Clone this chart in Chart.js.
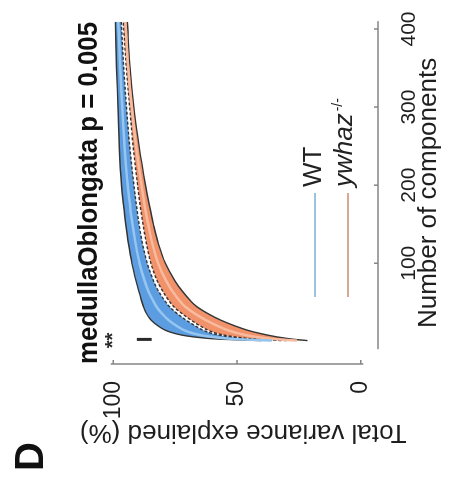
<!DOCTYPE html>
<html>
<head>
<meta charset="utf-8">
<script src="https://cdn.jsdelivr.net/npm/chart.js@4"></script>
<style>
  html, body { margin: 0; padding: 0; background: #fff; overflow: hidden; }
  /* the figure is printed turned a quarter turn counter-clockwise */
  #wrap {
    position: absolute; left: 0; top: 0;
    width: 483px; height: 450px;
    transform-origin: 0 0;
    transform: translateY(483px) rotate(-90deg);
  }
</style>
</head>
<body>
<div id="wrap"><canvas id="pcaChart" width="483" height="450"></canvas></div>
<script>
// Data
const COMPONENTS = [1, 2, 3, 5, 7, 10, 14, 20, 27, 35, 45, 52, 65, 77, 100, 125, 150, 175, 200, 250, 300, 350, 410];
const WT_UPPER = [40, 50, 58, 65.5, 70.5, 75, 78.8, 82, 84.7, 86.5, 87.9, 88.6, 89.8, 90.8, 92.5, 93.9, 95, 95.9, 96.7, 97.6, 98.1, 98.7, 99.2];
const WT_MEAN  = [36, 44.5, 51.5, 58.2, 63, 67.5, 71.2, 74.5, 77.6, 80.2, 82.7, 83.9, 85.9, 87.3, 89.4, 91, 92.3, 93.3, 94.2, 95.5, 96.4, 97.2, 98];
const WT_LOWER = [32, 39, 45, 51, 55.5, 60, 63.5, 67, 70.5, 74, 77.5, 79.2, 81.9, 83.7, 86.3, 88.2, 89.6, 90.7, 91.7, 93.4, 94.7, 95.8, 96.8];
const KO_UPPER = [30, 37, 43, 49, 53.5, 58, 61.5, 65, 68.5, 72, 75.8, 77.5, 80.2, 82.2, 84.8, 86.6, 88, 89.2, 90.2, 92, 93.4, 94.7, 96];
const KO_MEAN  = [25.8, 31, 35.5, 40.8, 44.8, 49.2, 53.5, 58, 62.5, 66.8, 71.2, 73.2, 76.3, 78.6, 81.9, 84.2, 85.9, 87.4, 88.6, 90.8, 92.6, 94, 95.2];
const KO_LOWER = [21.5, 25, 28, 32.5, 36, 40.5, 45.5, 51, 56.5, 61.5, 66.5, 68.8, 72.3, 75, 79, 81.8, 83.8, 85.5, 87, 89.6, 91.7, 93.2, 94.4];

const X_TICKS = [100, 200, 300, 400];
const Y_TICKS = [0, 50, 100];
const GROUPS = ['WT', 'ywhaz'];
const TITLE = 'medullaOblongata p = 0.005';

// significance mark near the first components
const SIG_X = 2.5;
const SIG_Y = [84.5, 90.5];
const STARS = '**';

const FONT = '"Liberation Sans", Arial, sans-serif';
const BLUE = 'rgba(82, 152, 222, 0.95)';
const ORANGE = 'rgba(240, 140, 98, 0.95)';
const EDGE = '#353535';
const AXIS = '#858585';

Chart.defaults.font.family = FONT;
Chart.defaults.color = '#1e1e1e';

const pts = arr => COMPONENTS.map((c, i) => ({ x: c, y: arr[i] }));

function lineSet(label, arr, color, width, extra) {
  return Object.assign({
    label: label,
    data: pts(arr),
    borderColor: color,
    borderWidth: width,
    pointRadius: 0,
    cubicInterpolationMode: 'monotone',
    fill: false
  }, extra || {});
}

// axis lines, ticks, legend, panel letter and the ** mark
const decorations = {
  id: 'decorations',
  afterDraw(chart) {
    const { ctx, chartArea, scales: { x, y } } = chart;
    ctx.save();

    // axes (offset, matlab style)
    ctx.strokeStyle = AXIS;
    ctx.lineWidth = 1.5;
    ctx.beginPath();
    ctx.moveTo(chartArea.left, y.getPixelForValue(101));
    ctx.lineTo(chartArea.left, y.getPixelForValue(-1));
    ctx.moveTo(x.getPixelForValue(-10), chartArea.bottom);
    ctx.lineTo(x.getPixelForValue(410), chartArea.bottom);
    Y_TICKS.forEach(v => {
      const py = y.getPixelForValue(v);
      ctx.moveTo(chartArea.left, py);
      ctx.lineTo(chartArea.left + 4, py);
    });
    X_TICKS.forEach(v => {
      const px = x.getPixelForValue(v);
      ctx.moveTo(px, chartArea.bottom);
      ctx.lineTo(px, chartArea.bottom - 4);
    });
    ctx.stroke();

    // significance
    ctx.strokeStyle = '#2a2a2a';
    ctx.lineWidth = 3;
    ctx.beginPath();
    ctx.moveTo(x.getPixelForValue(SIG_X), y.getPixelForValue(SIG_Y[0]));
    ctx.lineTo(x.getPixelForValue(SIG_X), y.getPixelForValue(SIG_Y[1]));
    ctx.stroke();
    ctx.fillStyle = '#2a2a2a';
    ctx.font = 'bold 20px ' + FONT;
    ctx.textAlign = 'center';
    ctx.textBaseline = 'alphabetic';
    ctx.fillText(STARS, x.getPixelForValue(SIG_X) - 1, 119);

    // legend
    const legendColors = ['#9cc4dc', '#d9a892'];
    const rows = [315, 348];
    ctx.lineWidth = 2;
    rows.forEach((ry, i) => {
      ctx.strokeStyle = legendColors[i];
      ctx.beginPath();
      ctx.moveTo(186, ry);
      ctx.lineTo(290, ry);
      ctx.stroke();
    });
    ctx.fillStyle = '#222';
    ctx.textAlign = 'left';
    ctx.textBaseline = 'middle';
    ctx.font = '26px ' + FONT;
    ctx.fillText(GROUPS[0], 296, 314);
    ctx.font = 'italic 26px ' + FONT;
    ctx.fillText(GROUPS[1], 296, 345);
    const w = ctx.measureText(GROUPS[1]).width;
    ctx.font = '14px ' + FONT;
    ctx.fillText('-/-', 296 + w + 2, 338);

    // panel letter
    ctx.font = 'bold 40px ' + FONT;
    ctx.textBaseline = 'alphabetic';
    ctx.fillStyle = '#111';
    ctx.fillText('D', 12, 43);

    ctx.restore();
  }
};

const ctx = document.getElementById('pcaChart').getContext('2d');

new Chart(ctx, {
  type: 'line',
  data: {
    datasets: [
      lineSet('WT mean', WT_MEAN, '#96c6f0', 2.5),
      lineSet('ywhaz mean', KO_MEAN, '#f7bb9f', 2.5),
      lineSet('WT upper', WT_UPPER, EDGE, 1.4, { fill: '+1', backgroundColor: BLUE }),
      lineSet('WT lower', WT_LOWER, EDGE, 1.4, { borderDash: [3, 2] }),
      lineSet('ywhaz upper', KO_UPPER, EDGE, 1.4, { fill: '+1', backgroundColor: ORANGE, borderDash: [3, 2] }),
      lineSet('ywhaz lower', KO_LOWER, EDGE, 1.4)
    ]
  },
  options: {
    responsive: false,
    animation: false,
    layout: { padding: { left: 0, right: 18, top: 0, bottom: 0 } },
    plugins: {
      legend: { display: false },
      tooltip: { enabled: false },
      filler: { drawTime: 'beforeDatasetsDraw' },
      title: {
        display: true,
        text: TITLE,
        fullSize: false,
        color: '#111',
        font: { size: 27, weight: 'bold' },
        padding: { top: 73, bottom: 3 }
      }
    },
    scales: {
      x: {
        type: 'linear',
        min: -29,
        max: 409,
        grid: { display: false },
        border: { display: false },
        afterBuildTicks: s => { s.ticks = X_TICKS.map(v => ({ value: v })); },
        afterFit: s => { s.height = 72; },
        ticks: { font: { size: 21 }, padding: 11, maxRotation: 0 },
        title: {
          display: true,
          text: 'Number of components',
          font: { size: 26 },
          padding: { top: 0, bottom: 6 }
        }
      },
      y: {
        min: -7,
        max: 102,
        grid: { display: false },
        border: { display: false },
        afterBuildTicks: s => { s.ticks = Y_TICKS.map(v => ({ value: v })); },
        afterFit: s => { s.width = 119; },
        ticks: { font: { size: 23 }, padding: 9 },
        title: {
          display: true,
          text: 'Total variance explained (%)',
          font: { size: 26 },
          padding: { top: 35, bottom: 0 }
        }
      }
    }
  },
  plugins: [decorations]
});
</script>
</body>
</html>
